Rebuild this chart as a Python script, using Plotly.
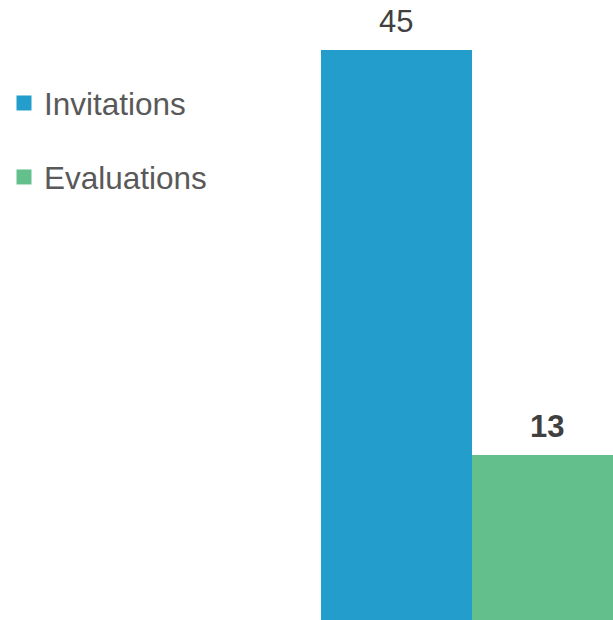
import plotly.graph_objects as go

categories = ["Invitations", "Evaluations"]
values = [45, 13]
colors = ["#239DCC", "#63C08C"]
label_bold = [False, True]

W, H = 613, 620
FONT = "Liberation Sans, Arial, sans-serif"

fig = go.Figure()
legend_names = ["legend", "legend2"]
for i, (cat, val, col) in enumerate(zip(categories, values, colors)):
    fig.add_trace(go.Bar(
        x=[cat], y=[val], name=cat, marker=dict(color=col, line=dict(width=0)),
        width=1, showlegend=False, hoverinfo="skip",
    ))
    fig.add_trace(go.Scatter(
        x=[None], y=[None], mode="markers", name=cat, legend=legend_names[i],
        marker=dict(symbol="square", size=15, color=col), showlegend=True,
    ))
    txt = f"<b>{val}</b>" if label_bold[i] else f"{val}"
    fig.add_annotation(x=cat, y=val, text=txt, showarrow=False, yanchor="middle",
                       yshift=29, font=dict(family=FONT, size=31, color="#404040"))

legend_common = dict(font=dict(family=FONT, size=31.5, color="#595959"),
                     bgcolor="rgba(0,0,0,0)", borderwidth=0, xanchor="left",
                     yanchor="middle", itemclick=False, itemsizing="trace")
fig.update_layout(
    width=W, height=H,
    margin=dict(l=0, r=0, t=0, b=0),
    paper_bgcolor="white", plot_bgcolor="white",
    barmode="overlay", bargap=0,
    xaxis=dict(type="category", categoryorder="array", categoryarray=categories,
               range=[-2.626, 1.434], visible=False),
    yaxis=dict(range=[0, 48.95], visible=False),
    legend=dict(x=4 / W, y=1 - 103 / H, **legend_common),
    legend2=dict(x=4 / W, y=1 - 177 / H, **legend_common),
)

fig.write_html(
    "out.html",
    config={"displayModeBar": False},
    post_script="document.body.style.margin='0';document.body.style.overflow='hidden';",
)
